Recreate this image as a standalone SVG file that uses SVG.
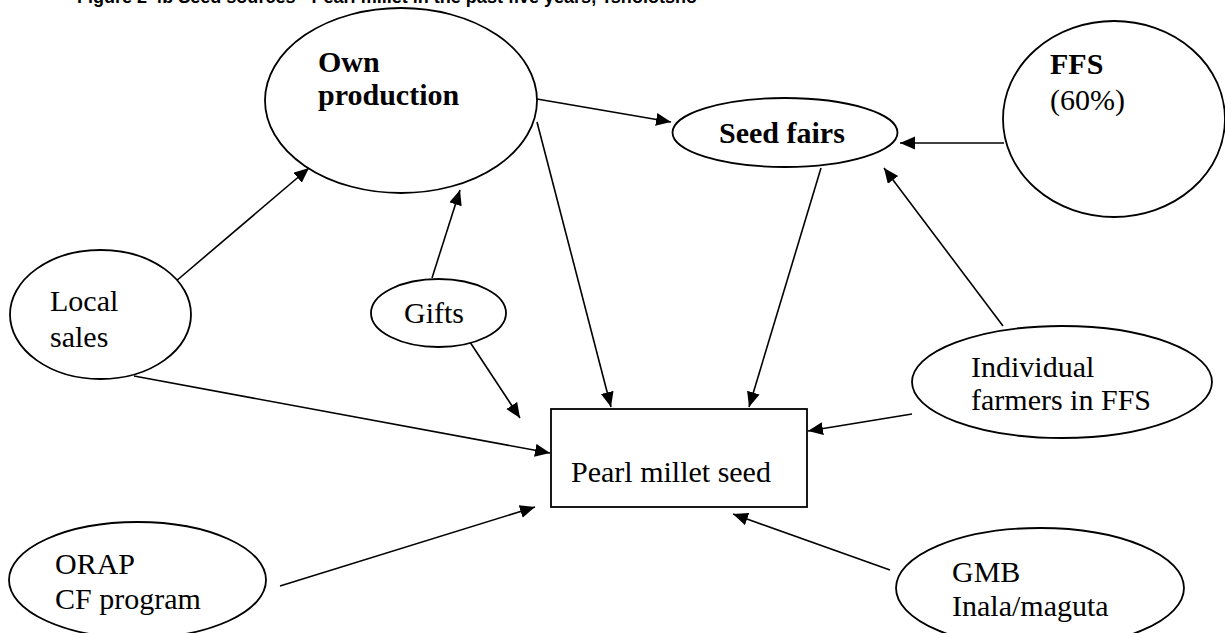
<svg xmlns="http://www.w3.org/2000/svg" width="1225" height="633" viewBox="0 0 1225 633">
<style>
.node{fill:#fff;stroke:#000;stroke-width:1.8}
.lbl{font-family:"Liberation Serif","Times New Roman",serif;font-size:30px;fill:#000}
.b{font-weight:bold}
.edge{stroke:#000;stroke-width:1.6;fill:none;marker-end:url(#ah)}
.title{font-family:"Liberation Sans",Arial,sans-serif;font-weight:bold;font-size:18px;fill:#000}
</style>
<defs>
<marker id="ah" markerUnits="userSpaceOnUse" markerWidth="16" markerHeight="14" refX="15" refY="6.5" orient="auto">
<path d="M0,0 L15,6.5 L0,13 z" fill="#000"/>
</marker>
</defs>
<rect width="1225" height="633" fill="#fff"/>
<text class="title" x="77" y="3" textLength="620" lengthAdjust="spacingAndGlyphs">Figure 2 4b Seed sources - Pearl millet in the past five years, Tsholotsho</text>
<g id="connectors">
<line class="edge" x1="537" y1="99" x2="671" y2="122"/>
<line class="edge" x1="537" y1="122" x2="611" y2="407"/>
<line class="edge" x1="821" y1="168" x2="749" y2="407"/>
<line class="edge" x1="1004" y1="143" x2="900" y2="143"/>
<line class="edge" x1="1003" y1="326" x2="884" y2="168"/>
<line class="edge" x1="912" y1="414" x2="808" y2="431"/>
<line class="edge" x1="175" y1="282" x2="309" y2="168"/>
<line class="edge" x1="432" y1="278" x2="460" y2="190"/>
<line class="edge" x1="462" y1="330" x2="520" y2="418"/>
<line class="edge" x1="134" y1="376" x2="550" y2="453"/>
<line class="edge" x1="280" y1="586" x2="535" y2="507"/>
<line class="edge" x1="890" y1="570" x2="733" y2="514"/>
</g>
<g id="own-production">
<ellipse class="node" cx="401" cy="100.5" rx="136" ry="92.5"/>
<text class="lbl b" x="318" y="72">Own</text>
<text class="lbl b" x="318" y="105">production</text>
</g>
<g id="seed-fairs">
<ellipse class="node" cx="785" cy="132.5" rx="112.5" ry="34.5"/>
<text class="lbl b" x="719" y="143">Seed fairs</text>
</g>
<g id="ffs">
<ellipse class="node" cx="1114" cy="119" rx="111" ry="98"/>
<text class="lbl b" x="1050" y="74">FFS</text>
<text class="lbl" x="1050" y="110">(60%)</text>
</g>
<g id="local-sales">
<ellipse class="node" cx="100.5" cy="314.5" rx="90.5" ry="64.5"/>
<text class="lbl" x="50" y="311">Local</text>
<text class="lbl" x="50" y="347">sales</text>
</g>
<g id="gifts">
<ellipse class="node" cx="438.5" cy="313" rx="67.5" ry="34"/>
<text class="lbl" x="404" y="323">Gifts</text>
</g>
<g id="individual-farmers">
<ellipse class="node" cx="1062" cy="382" rx="150" ry="56"/>
<text class="lbl" x="971" y="377">Individual</text>
<text class="lbl" x="971" y="410">farmers in FFS</text>
</g>
<g id="pearl-millet-seed">
<rect class="node" x="551" y="409" width="256" height="98"/>
<text class="lbl" x="571" y="482">Pearl millet seed</text>
</g>
<g id="orap">
<ellipse class="node" cx="137.5" cy="580" rx="128.5" ry="58"/>
<text class="lbl" x="55" y="574">ORAP</text>
<text class="lbl" x="55" y="609">CF program</text>
</g>
<g id="gmb">
<ellipse class="node" cx="1040" cy="588" rx="144" ry="60"/>
<text class="lbl" x="952" y="582">GMB</text>
<text class="lbl" x="952" y="616">Inala/maguta</text>
</g>
</svg>
